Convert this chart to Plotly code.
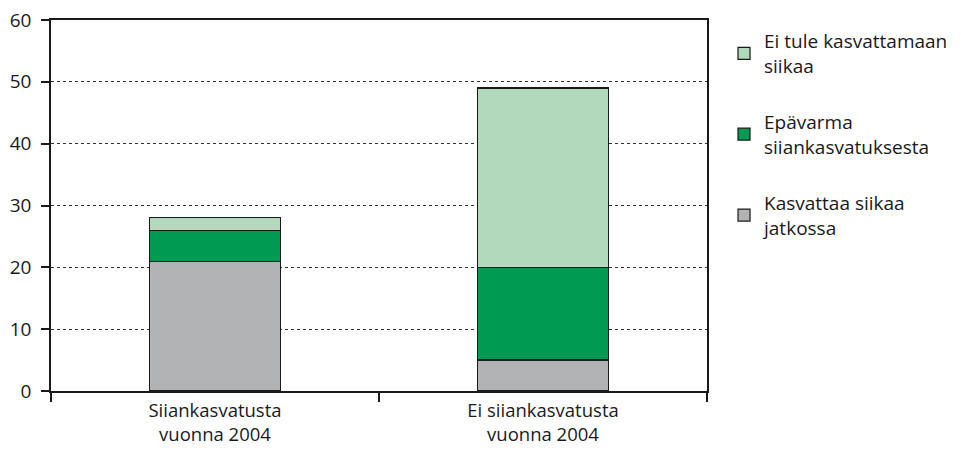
import plotly.graph_objects as go

categories = ["Siiankasvatusta<br>vuonna 2004", "Ei siiankasvatusta<br>vuonna 2004"]
series_names = ["Kasvattaa siikaa<br>jatkossa", "Epävarma<br>siiankasvatuksesta", "Ei tule kasvattamaan<br>siikaa"]
kasvattaa = [21, 5]
epavarma = [5, 15]
ei_tule = [2, 29]
y_ticks = [0, 10, 20, 30, 40, 50, 60]

colors = ["#b2b3b5", "#009a52", "#b3d9bd"]
values = [kasvattaa, epavarma, ei_tule]
ranks = [3, 2, 1]

FONT = "Open Sans"
FS = 19

fig = go.Figure()
for i, (name, vals, col, rk) in enumerate(zip(series_names, values, colors, ranks)):
    fig.add_trace(go.Bar(
        x=categories, y=vals, name=name, legendgroup=f"g{i}", legendrank=rk,
        marker=dict(color=col, line=dict(color="#1a1a1a", width=1.2)),
        width=0.4,
    ))

fig.update_layout(
    barmode="stack",
    width=961, height=451,
    margin=dict(l=51, r=254, t=20, b=60, autoexpand=False),
    paper_bgcolor="white", plot_bgcolor="white",
    font=dict(family=FONT, size=FS, color="#1a1a1a"),
    legend=dict(
        xref="container", yref="container",
        x=0.7534, xanchor="left", y=0.951, yanchor="top",
        traceorder="grouped", tracegroupgap=28.5,
        font=dict(family=FONT, size=FS, color="#1a1a1a"),
        itemclick=False, itemdoubleclick=False,
    ),
    showlegend=True,
)
fig.update_xaxes(
    showline=True, linecolor="#1a1a1a", linewidth=1.5, mirror=True,
    ticks="outside", ticklen=9, tickwidth=1.5, tickcolor="#1a1a1a",
    tickson="boundaries", showgrid=False, ticklabelstandoff=2, automargin=False,
    tickfont=dict(size=18.5),
)
fig.update_yaxes(
    range=[0, 60], tickvals=y_ticks,
    showline=True, linecolor="#1a1a1a", linewidth=1.5, mirror=True,
    ticks="outside", ticklen=8, tickwidth=1.5, tickcolor="#1a1a1a",
    showgrid=True, gridcolor="#333333", griddash="dot", gridwidth=1,
    zeroline=False, ticklabelstandoff=6, automargin=False,
)

fig.write_html("out.html")
